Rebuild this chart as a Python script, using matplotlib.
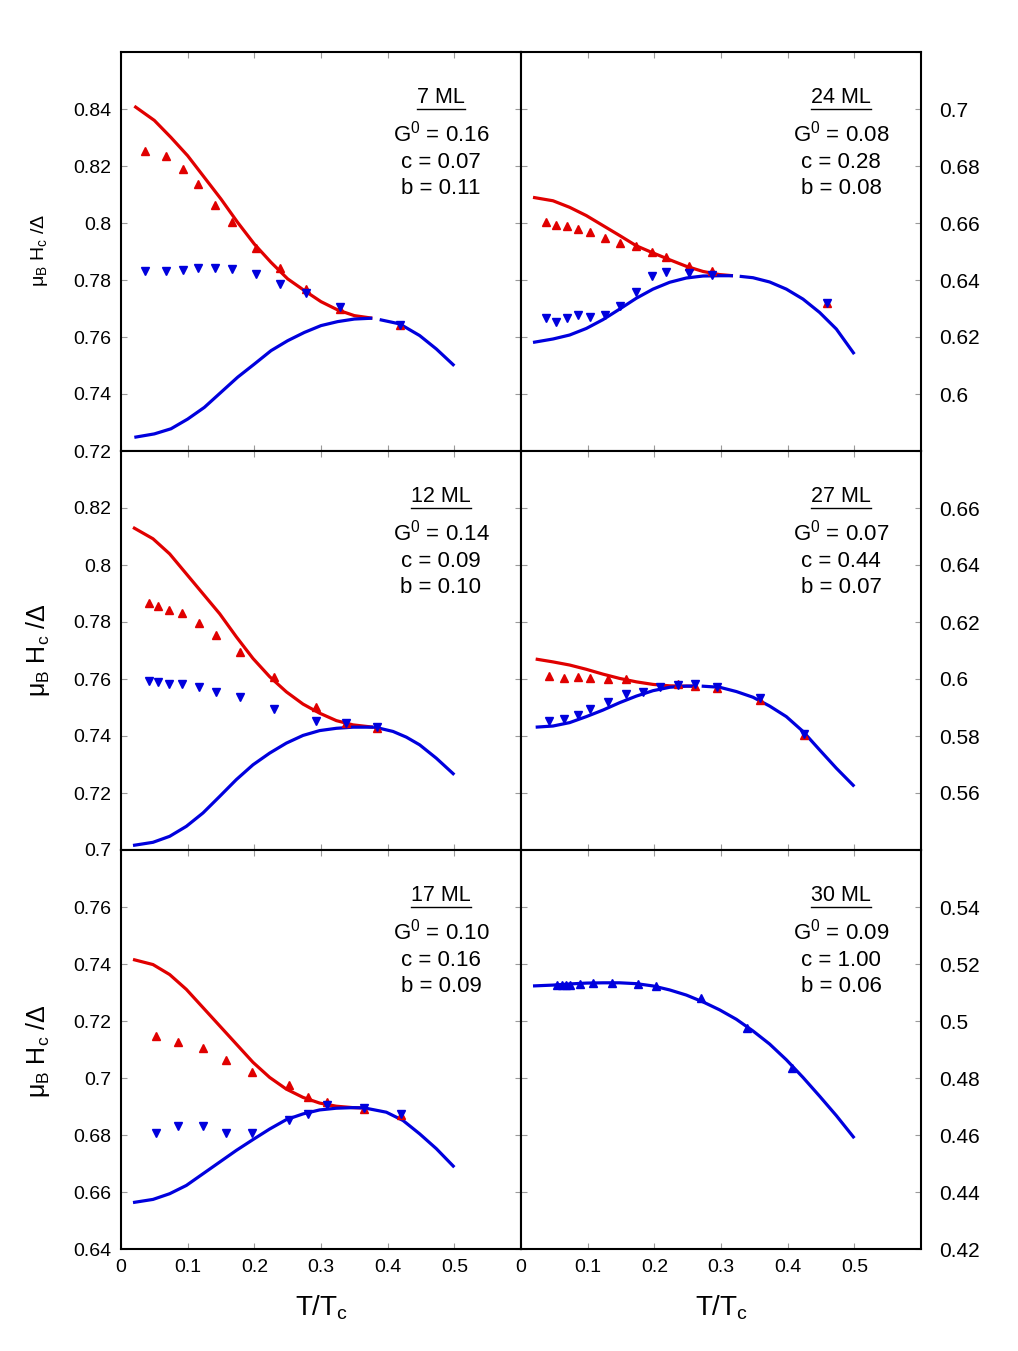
import numpy as np
import matplotlib.pyplot as plt

plt.rcParams['font.family'] = ['Liberation Sans', 'DejaVu Sans']
plt.rcParams['mathtext.fontset'] = 'custom'
plt.rcParams['mathtext.rm'] = 'Liberation Sans'
plt.rcParams['mathtext.it'] = 'Liberation Sans:italic'
plt.rcParams['mathtext.bf'] = 'Liberation Sans:bold'

RED = '#e00000'
BLUE = '#0000dd'

# ----------------------------
# 7 ML
# ----------------------------
ml7_fit_T = [0.02, 0.05, 0.075, 0.1, 0.125, 0.15, 0.175, 0.2, 0.225, 0.25, 0.275, 0.3, 0.325, 0.35, 0.377]
ml7_fit_up = [0.841, 0.836, 0.830, 0.8236, 0.816, 0.8084, 0.8002, 0.7926, 0.7862, 0.7804, 0.7763, 0.7724, 0.7695, 0.7675, 0.7666]
ml7_fit_dn = [0.7248, 0.7260, 0.7278, 0.7312, 0.7353, 0.7406, 0.7459, 0.7505, 0.7552, 0.7587, 0.7616, 0.7640, 0.7654, 0.7663, 0.7666]
ml7_hi_T = [0.388, 0.418, 0.448, 0.473, 0.5]
ml7_hi = [0.7661, 0.7646, 0.7605, 0.7558, 0.7499]
ml7_up_T = [0.036, 0.067, 0.093, 0.116, 0.141, 0.167, 0.202, 0.238, 0.278, 0.328, 0.419]
ml7_up = [0.8254, 0.8234, 0.8189, 0.8137, 0.8064, 0.8005, 0.7912, 0.7842, 0.7768, 0.7698, 0.7642]
ml7_dn_T = [0.036, 0.067, 0.093, 0.116, 0.141, 0.167, 0.202, 0.238, 0.278, 0.328, 0.419]
ml7_dn = [0.7830, 0.7830, 0.7836, 0.7843, 0.7843, 0.7840, 0.7821, 0.7786, 0.7754, 0.7704, 0.7642]

# ----------------------------
# 24 ML
# ----------------------------
ml24_fit_T = [0.018, 0.048, 0.073, 0.098, 0.123, 0.148, 0.173, 0.198, 0.223, 0.248, 0.273, 0.298, 0.318]
ml24_fit_up = [0.6690, 0.6678, 0.6655, 0.6626, 0.6591, 0.6556, 0.6520, 0.6495, 0.6471, 0.6448, 0.6430, 0.6419, 0.6415]
ml24_fit_dn = [0.6181, 0.6193, 0.6207, 0.6230, 0.6261, 0.6298, 0.6336, 0.6368, 0.6392, 0.6407, 0.6414, 0.6415, 0.6415]
ml24_hi_T = [0.328, 0.348, 0.373, 0.398, 0.423, 0.448, 0.473, 0.5]
ml24_hi = [0.6413, 0.6408, 0.6393, 0.6368, 0.6333, 0.6286, 0.6228, 0.6140]
ml24_up_T = [0.038, 0.052, 0.069, 0.086, 0.103, 0.126, 0.149, 0.172, 0.196, 0.218, 0.252, 0.287, 0.459]
ml24_up = [0.6605, 0.6593, 0.6591, 0.6579, 0.6567, 0.6547, 0.6529, 0.6518, 0.6499, 0.6480, 0.6450, 0.6433, 0.6319]
ml24_dn_T = [0.038, 0.052, 0.069, 0.086, 0.103, 0.126, 0.149, 0.172, 0.196, 0.218, 0.252, 0.287, 0.459]
ml24_dn = [0.6265, 0.6254, 0.6265, 0.6277, 0.6269, 0.6278, 0.6308, 0.6357, 0.6415, 0.6429, 0.6425, 0.6418, 0.6319]

# ----------------------------
# 12 ML
# ----------------------------
ml12_fit_T = [0.018, 0.048, 0.073, 0.098, 0.123, 0.148, 0.173, 0.198, 0.223, 0.248, 0.273, 0.298, 0.323, 0.348, 0.378]
ml12_fit_up = [0.8132, 0.8092, 0.8039, 0.7969, 0.7899, 0.7829, 0.7748, 0.7672, 0.7608, 0.7555, 0.7512, 0.7480, 0.7454, 0.7439, 0.7431]
ml12_fit_dn = [0.7016, 0.7027, 0.7048, 0.7083, 0.7130, 0.7188, 0.7247, 0.7299, 0.7340, 0.7375, 0.7402, 0.7419, 0.7427, 0.7431, 0.7431]
ml12_hi_T = [0.378, 0.388, 0.408, 0.428, 0.448, 0.473, 0.5]
ml12_hi = [0.7431, 0.7427, 0.7416, 0.7396, 0.7369, 0.7322, 0.7264]
ml12_up_T = [0.042, 0.056, 0.072, 0.092, 0.117, 0.143, 0.179, 0.230, 0.292, 0.338, 0.384]
ml12_up = [0.7868, 0.7856, 0.7843, 0.7833, 0.7798, 0.7756, 0.7695, 0.7608, 0.7501, 0.7447, 0.7427]
ml12_dn_T = [0.042, 0.056, 0.072, 0.092, 0.117, 0.143, 0.179, 0.230, 0.292, 0.338, 0.384]
ml12_dn = [0.7594, 0.7588, 0.7581, 0.7581, 0.7571, 0.7553, 0.7536, 0.7495, 0.7454, 0.7445, 0.7431]

# ----------------------------
# 27 ML
# ----------------------------
ml27_fit_T = [0.022, 0.048, 0.073, 0.098, 0.123, 0.148, 0.173, 0.198, 0.223, 0.248, 0.263]
ml27_fit_up = [0.6070, 0.6060, 0.6049, 0.6034, 0.6017, 0.6002, 0.5990, 0.5981, 0.5976, 0.5975, 0.5975]
ml27_fit_dn = [0.5831, 0.5835, 0.5847, 0.5868, 0.5891, 0.5917, 0.5940, 0.5959, 0.5971, 0.5975, 0.5975]
ml27_hi_T = [0.271, 0.298, 0.323, 0.348, 0.373, 0.398, 0.423, 0.448, 0.473, 0.5]
ml27_hi = [0.5975, 0.5971, 0.5956, 0.5936, 0.5905, 0.5868, 0.5816, 0.5751, 0.5687, 0.5623]
ml27_up_T = [0.042, 0.065, 0.085, 0.104, 0.131, 0.157, 0.236, 0.261, 0.294, 0.359, 0.425]
ml27_up = [0.6011, 0.6004, 0.6008, 0.6004, 0.5999, 0.6000, 0.5981, 0.5976, 0.5967, 0.5926, 0.5804]
ml27_dn_T = [0.042, 0.065, 0.085, 0.104, 0.131, 0.157, 0.183, 0.209, 0.236, 0.261, 0.294, 0.359, 0.425]
ml27_dn = [0.5854, 0.5859, 0.5872, 0.5894, 0.5921, 0.5946, 0.5955, 0.5971, 0.5979, 0.5982, 0.5971, 0.5932, 0.5807]

# ----------------------------
# 17 ML
# ----------------------------
ml17_fit_T = [0.018, 0.048, 0.073, 0.098, 0.123, 0.148, 0.173, 0.198, 0.223, 0.248, 0.273, 0.298, 0.323, 0.348, 0.365]
ml17_fit_up = [0.7416, 0.7398, 0.7363, 0.7311, 0.7247, 0.7183, 0.7119, 0.7055, 0.7002, 0.6961, 0.6932, 0.6912, 0.6901, 0.6896, 0.6895]
ml17_fit_dn = [0.6563, 0.6574, 0.6594, 0.6623, 0.6664, 0.6705, 0.6746, 0.6784, 0.6821, 0.6854, 0.6874, 0.6888, 0.6894, 0.6896, 0.6895]
ml17_hi_T = [0.365, 0.398, 0.423, 0.448, 0.473, 0.5]
ml17_hi = [0.6895, 0.6880, 0.6851, 0.6804, 0.6752, 0.6687]
ml17_up_T = [0.053, 0.085, 0.123, 0.157, 0.197, 0.252, 0.280, 0.309, 0.364, 0.420]
ml17_up = [0.7148, 0.7127, 0.7105, 0.7063, 0.7020, 0.6976, 0.6934, 0.6917, 0.6891, 0.6870]
ml17_dn_T = [0.053, 0.085, 0.123, 0.157, 0.197, 0.252, 0.280, 0.309, 0.364, 0.420]
ml17_dn = [0.6808, 0.6830, 0.6830, 0.6808, 0.6808, 0.6853, 0.6872, 0.6905, 0.6894, 0.6872]

# ----------------------------
# 30 ML
# ----------------------------
ml30_fit_T = [0.018, 0.048, 0.073, 0.098, 0.123, 0.148, 0.173, 0.198, 0.223, 0.248,
              0.273, 0.298, 0.323, 0.348, 0.373, 0.398, 0.423, 0.448, 0.473, 0.5]
ml30_fit = [0.5123, 0.5126, 0.5130, 0.5133, 0.5134, 0.5134, 0.5131, 0.5123, 0.5109, 0.5091,
            0.5067, 0.5039, 0.5006, 0.4965, 0.4919, 0.4864, 0.4802, 0.4736, 0.4668, 0.4589]
ml30_pts_T = [0.054, 0.061, 0.067, 0.073, 0.088, 0.108, 0.136, 0.176, 0.202, 0.270, 0.339, 0.407]
ml30_pts = [0.5125, 0.5127, 0.5125, 0.5128, 0.5130, 0.5133, 0.5133, 0.5130, 0.5123, 0.5079, 0.4975, 0.4835]

# 面板标注
labels = ["7 ML", "24 ML", "12 ML", "27 ML", "17 ML", "30 ML"]
G0 = ["0.16", "0.08", "0.14", "0.07", "0.10", "0.09"]
c_vals = ["0.07", "0.28", "0.09", "0.44", "0.16", "1.00"]
b_vals = ["0.11", "0.08", "0.10", "0.07", "0.09", "0.06"]
ylims = [(0.72, 0.86), (0.58, 0.72), (0.70, 0.84), (0.54, 0.68), (0.64, 0.78), (0.42, 0.56)]

two_branch = [
    (ml7_fit_T, ml7_fit_up, ml7_fit_dn, ml7_hi_T, ml7_hi, ml7_up_T, ml7_up, ml7_dn_T, ml7_dn),
    (ml24_fit_T, ml24_fit_up, ml24_fit_dn, ml24_hi_T, ml24_hi, ml24_up_T, ml24_up, ml24_dn_T, ml24_dn),
    (ml12_fit_T, ml12_fit_up, ml12_fit_dn, ml12_hi_T, ml12_hi, ml12_up_T, ml12_up, ml12_dn_T, ml12_dn),
    (ml27_fit_T, ml27_fit_up, ml27_fit_dn, ml27_hi_T, ml27_hi, ml27_up_T, ml27_up, ml27_dn_T, ml27_dn),
    (ml17_fit_T, ml17_fit_up, ml17_fit_dn, ml17_hi_T, ml17_hi, ml17_up_T, ml17_up, ml17_dn_T, ml17_dn),
]

W, H = 1018, 1351
fig = plt.figure(figsize=(W / 100, H / 100), dpi=100)

x0 = 121
pw = 400
y_top = 52
ph = 399

LW = 2.3
MS = 5.5
line_kw = dict(lw=LW, solid_joinstyle='round', solid_capstyle='butt')

axes = []
for i in range(6):
    row, col = divmod(i, 2)
    left = (x0 + col * pw) / W
    bottom = 1 - (y_top + ph * (row + 1)) / H
    ax = fig.add_axes([left, bottom, pw / W, ph / H])
    axes.append(ax)

    if i < 5:
        fT, fup, fdn, hT, hv, uT, uv, dT, dv = two_branch[i]
        ax.plot(fT, fup, color=RED, **line_kw)
        ax.plot(fT, fdn, color=BLUE, **line_kw)
        ax.plot(hT, hv, color=BLUE, **line_kw)
        ax.plot(uT, uv, '^', color=RED, ms=MS, mec=RED, ls='none')
        ax.plot(dT, dv, 'v', color=BLUE, ms=MS, mec=BLUE, ls='none')
    else:
        ax.plot(ml30_fit_T, ml30_fit, color=BLUE, **line_kw)
        ax.plot(ml30_pts_T, ml30_pts, '^', color=BLUE, ms=MS, ls='none')

    ylo, yhi = ylims[i]
    ax.set_xlim(0, 0.6)
    ax.set_ylim(ylo, yhi)

    xt = np.arange(0, 0.51, 0.1)
    ax.set_xticks(xt)
    if row == 2:
        ax.set_xticklabels(["%g" % round(v, 1) for v in xt])
    else:
        ax.set_xticklabels([])

    yt = np.arange(ylo, yhi + 1e-9, 0.02)
    ylab = []
    for v in yt:
        v = round(v, 2)
        show = v < yhi - 1e-9
        if col == 1 and row < 2 and abs(v - ylo) < 1e-9:
            show = False
        ylab.append("%g" % v if show else "")
    ax.set_yticks(yt)
    ax.set_yticklabels(ylab)

    ax.tick_params(direction='in', length=4, width=0.8, color='#9a9a9a',
                   top=True, bottom=True, left=True, right=True,
                   labelsize=14, pad=7)
    if col == 1:
        ax.tick_params(axis='y', labelleft=False, labelright=True, pad=13, labelsize=15)
    for s in ax.spines.values():
        s.set_linewidth(1.5)

    # 文本
    ax.text(0.80, 0.887, labels[i], transform=ax.transAxes, ha='center', va='center', fontsize=15.5)
    ax.text(0.80, 0.795, r"G$^{\mathrm{0}}$ = " + G0[i], transform=ax.transAxes,
            ha='center', va='center', fontsize=16)
    ax.text(0.80, 0.724, "c = " + c_vals[i], transform=ax.transAxes, ha='center', va='center', fontsize=16)
    ax.text(0.80, 0.659, "b = " + b_vals[i], transform=ax.transAxes, ha='center', va='center', fontsize=16)

# 下划线
fig.canvas.draw()
renderer = fig.canvas.get_renderer()
for ax in axes:
    t = ax.texts[0]
    bb = t.get_window_extent(renderer).transformed(ax.transAxes.inverted())
    ax.plot([bb.x0, bb.x1], [bb.y0 - 0.004, bb.y0 - 0.004], color='black', lw=1.0,
            transform=ax.transAxes, clip_on=False)

ylabel = r"μ$_{\mathrm{B}}$ H$_{\mathrm{c}}$ /Δ"
fig.text(40 / W, 1 - 250 / H, ylabel, rotation=90, ha='center', va='center', fontsize=14)
fig.text(38 / W, 1 - 650 / H, ylabel, rotation=90, ha='center', va='center', fontsize=18)
fig.text(38 / W, 1 - 1051 / H, ylabel, rotation=90, ha='center', va='center', fontsize=18)

fig.text(322 / W, 1 - 1315 / H, r"T/T$_{\mathrm{c}}$", ha='center', va='baseline', fontsize=20)
fig.text(722 / W, 1 - 1315 / H, r"T/T$_{\mathrm{c}}$", ha='center', va='baseline', fontsize=20)

fig.savefig("out.png", dpi=100)
